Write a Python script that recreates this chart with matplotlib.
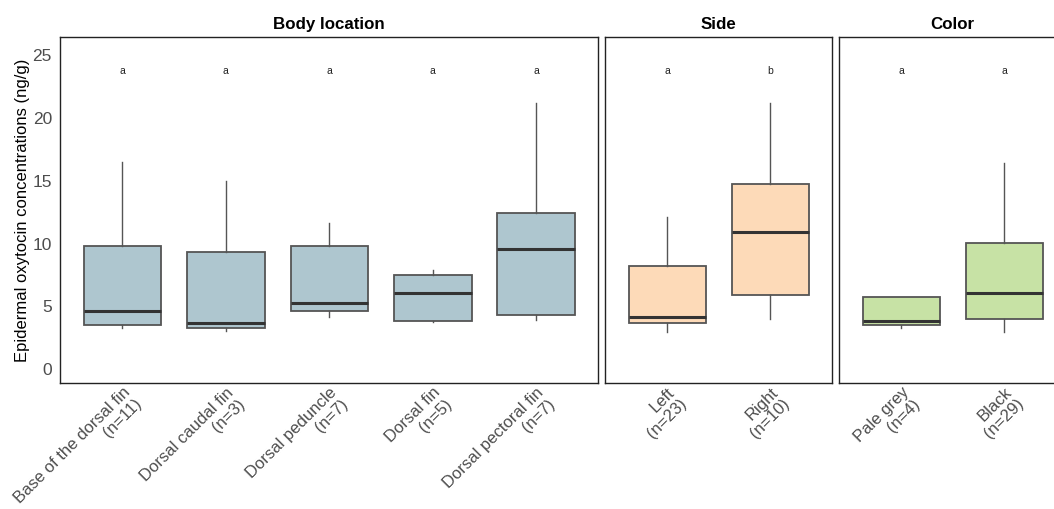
import matplotlib
matplotlib.use("Agg")
import matplotlib.pyplot as plt

plt.rcParams['font.family'] = ['Liberation Sans', 'DejaVu Sans']

# ---- data ----
body_labels = ["Base of the dorsal fin\n(n=11)", "Dorsal caudal fin\n(n=3)", "Dorsal peduncle\n(n=7)",
               "Dorsal fin\n(n=5)", "Dorsal pectoral fin\n(n=7)"]
body_whislo = [3.31, 3.05, 4.14, 3.74, 3.92]
body_q1     = [3.50, 3.31, 4.64, 3.87, 4.30]
body_med    = [4.66, 3.66, 5.25, 6.05, 9.57]
body_q3     = [9.81, 9.33, 9.83, 7.50, 12.46]
body_whishi = [16.47, 14.98, 11.66, 7.90, 21.20]
body_letters = ["a", "a", "a", "a", "a"]

side_labels = ["Left\n(n=23)", "Right\n(n=10)"]
side_whislo = [2.99, 4.03]
side_q1     = [3.68, 5.93]
side_med    = [4.14, 10.90]
side_q3     = [8.24, 14.72]
side_whishi = [12.09, 21.21]
side_letters = ["a", "b"]

color_labels = ["Pale grey\n(n=4)", "Black\n(n=29)"]
color_whislo = [3.31, 2.99]
color_q1     = [3.52, 3.98]
color_med    = [3.84, 6.07]
color_q3     = [5.73, 10.05]
color_whishi = [5.73, 16.44]
color_letters = ["a", "a"]

panels = [
    ("Body location", body_labels, body_whislo, body_q1, body_med, body_q3, body_whishi, body_letters, "#AEC6CF"),
    ("Side", side_labels, side_whislo, side_q1, side_med, side_q3, side_whishi, side_letters, "#FDDAB8"),
    ("Color", color_labels, color_whislo, color_q1, color_med, color_q3, color_whishi, color_letters, "#C7E2A5"),
]

W, H = 1054, 509
fig = plt.figure(figsize=(W / 100, H / 100), dpi=100)

# panel pixel extents (left, right)
extents = [(60.3, 598.3), (605.3, 832.3), (839.3, 1066.3)]
top_px, bot_px = 37.3, 382.7
letter_y = 23.75
ylim = (-1.07, 26.41)

for i, (ext, p) in enumerate(zip(extents, panels)):
    title, labels, wlo, q1, med, q3, whi, letters, fc = p
    l, r = ext
    ax = fig.add_axes([l / W, 1 - bot_px / H, (r - l) / W, (bot_px - top_px) / H])
    n = len(labels)
    stats = [dict(whislo=wlo[k], q1=q1[k], med=med[k], q3=q3[k], whishi=whi[k], fliers=[])
             for k in range(n)]
    ax.bxp(stats, positions=range(1, n + 1), widths=0.75, patch_artist=True, showcaps=False,
           boxprops=dict(facecolor=fc, edgecolor="#555555", linewidth=1.3),
           whiskerprops=dict(color="#555555", linewidth=1.0),
           medianprops=dict(color="#333333", linewidth=2.2))
    for k in range(n):
        ax.text(k + 1, letter_y, letters[k], ha="center", va="center", fontsize=7.5, color="#222222")
    ax.set_xlim(0.4, n + 0.6)
    ax.set_ylim(*ylim)
    ax.set_xticks(range(1, n + 1))
    ax.set_xticklabels(labels, rotation=45, ha="right", va="top", rotation_mode="anchor",
                       fontsize=12, color="#4D4D4D", linespacing=1.1)
    ax.tick_params(axis="x", length=0, pad=1.5)
    ax.tick_params(axis="y", length=0)
    for s in ax.spines.values():
        s.set_linewidth(1.0)
        s.set_color("#222222")
    ax.set_title(title, fontsize=12.2, fontweight="bold", pad=6)
    if i == 0:
        ax.set_yticks([0, 5, 10, 15, 20, 25])
        ax.tick_params(axis="y", labelsize=12.5, labelcolor="#4D4D4D", pad=6)
        ax.set_ylabel("Epidermal oxytocin concentrations (ng/g)", fontsize=12.0, labelpad=2)
    else:
        ax.set_yticks([])

fig.savefig("out.png", dpi=100)
